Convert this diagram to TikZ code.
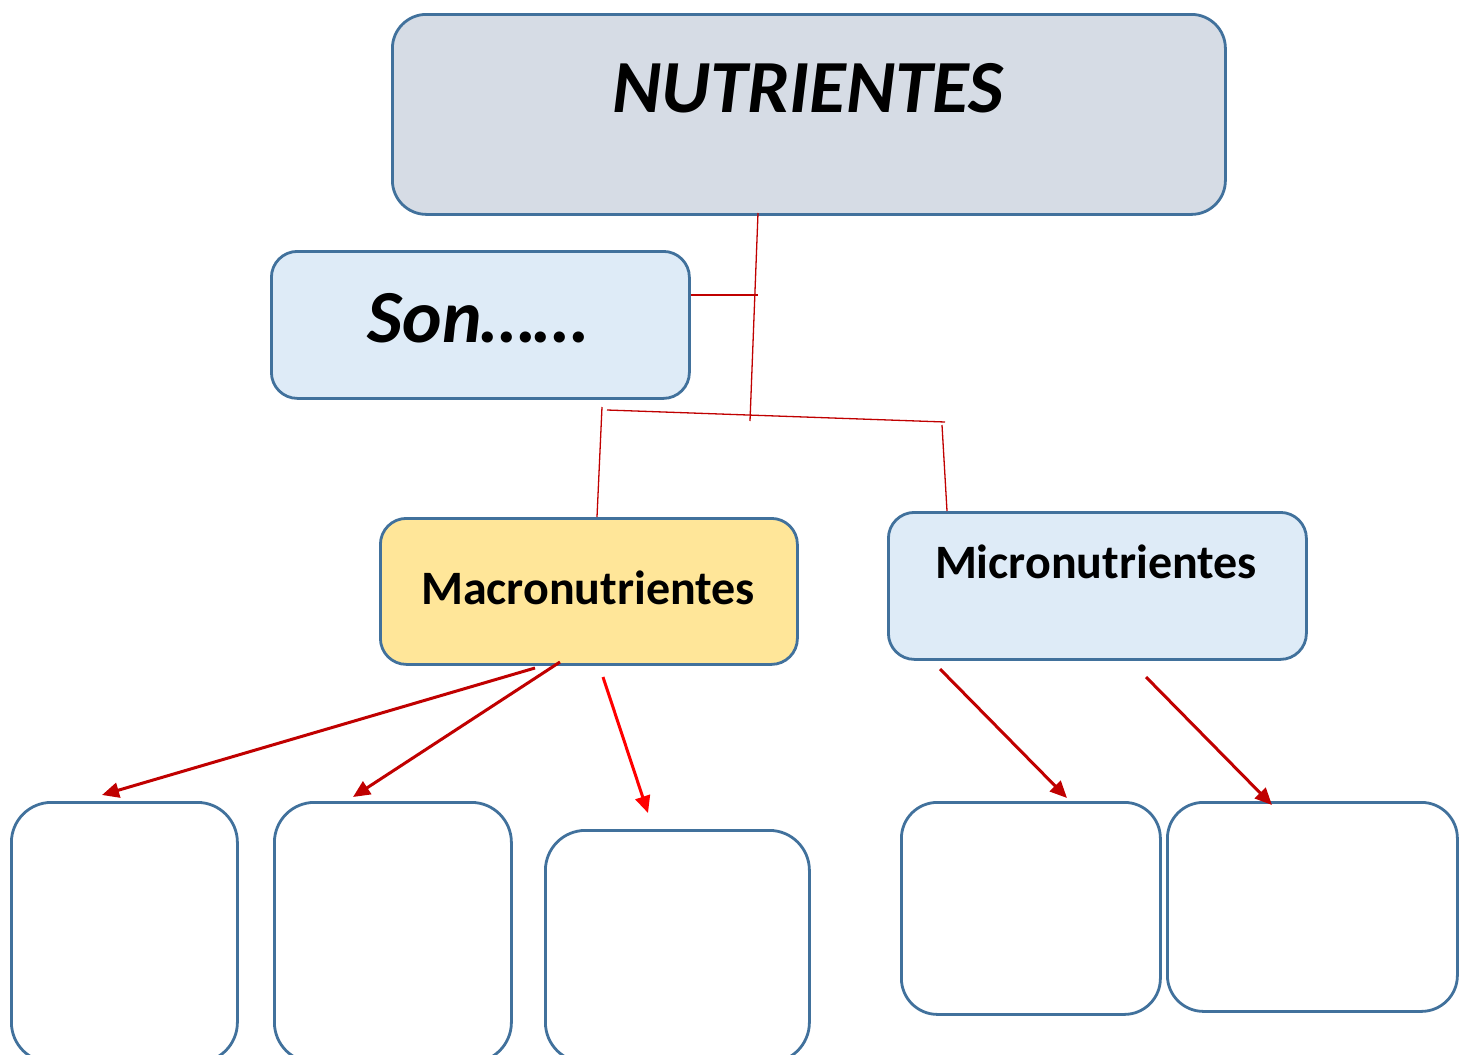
\documentclass[tikz,border=0pt]{standalone}
\usepackage{fontspec}
\setmainfont{Carlito}
\usetikzlibrary{arrows.meta}
\definecolor{bord}{HTML}{41719C}
\definecolor{topfill}{HTML}{D6DCE5}
\definecolor{bluefill}{HTML}{DEEBF7}
\definecolor{yelfill}{HTML}{FFE699}
\definecolor{darkred}{HTML}{C00000}
\definecolor{brightred}{HTML}{FF0000}
\begin{document}
\begin{tikzpicture}[x=1pt,y=-1pt,
  box/.style={draw=bord,line width=2.8pt,rounded corners=#1,inner sep=0pt,anchor=north west},
  box/.default=30pt,
  thin/.style={draw=darkred,line width=1.3pt},
  arr/.style={draw=darkred,line width=3pt,-{Triangle[length=17pt,width=15pt]}},
  lbl/.style={font=\bfseries,text=black,inner sep=0pt}
]
\useasboundingbox (0,0) rectangle (1465,1055);
% main boxes
\node[box=34pt,fill=topfill,minimum width=833pt,minimum height=200pt] (top) at (391,13) {};
\node[box=26pt,fill=bluefill,minimum width=418pt,minimum height=147pt] (son) at (270,250) {};
\node[box=26pt,fill=yelfill,minimum width=417pt,minimum height=146pt] (macro) at (379,517) {};
\node[box=26pt,fill=bluefill,minimum width=418pt,minimum height=147pt] (micro) at (887,511) {};
% labels
\node[lbl,font=\bfseries\itshape\fontsize{75}{80}\selectfont] (ttop) at (808,88) {NUTRIENTES};
\node[lbl,font=\bfseries\itshape\fontsize{75}{80}\selectfont] (tson) at (478,318) {Son……};
\node[lbl,font=\bfseries\fontsize{48}{52}\selectfont] (tmacro) at (588,588) {Macronutrientes};
\node[lbl,font=\bfseries\fontsize{48}{52}\selectfont] (tmicro) at (1096,562) {Micronutrientes};
% bottom boxes
\begin{scope}
\clip (0,0) rectangle (1465,1055);
\node[box=40pt,fill=white,minimum width=226pt,minimum height=260pt] (b1) at (10,801) {};
\node[box=40pt,fill=white,minimum width=237pt,minimum height=260pt] (b2) at (273,801) {};
\node[box=40pt,fill=white,minimum width=264pt,minimum height=232pt] (b3) at (544,829) {};
\end{scope}
\node[box=36pt,fill=white,minimum width=259pt,minimum height=212pt] (b4) at (900,801) {};
\node[box=36pt,fill=white,minimum width=290pt,minimum height=209pt] (b5) at (1166,801) {};
% thin connector lines
\coordinate (c1) at (758,213);
\coordinate (c2) at (750,421);
\coordinate (c3) at (758,295);
\coordinate (c4) at (607,410);
\coordinate (c5) at (945,422);
\coordinate (c6) at (602,407);
\coordinate (c7) at (942,425);
\path[thin] (c1) -- (c2);
\path[thin] (son.east |- c3) -- (c3);
\path[thin] (c4) -- (c5);
\path[thin] (c6) -- (597,517);
\path[thin] (c7) -- (947,511);
% arrows
\coordinate (a1) at (535,668);
\coordinate (a2) at (560,662);
\coordinate (a3) at (603,677);
\coordinate (a4) at (940,669);
\coordinate (a5) at (1146,677);
\coordinate (e1) at (102,795);
\coordinate (e2) at (353,797);
\coordinate (e3) at (648,813);
\coordinate (e4) at (1067,798);
\coordinate (e5) at (1272,805);
\path[arr] (a1) -- (e1);
\path[arr] (a2) -- (e2);
\path[arr,draw=brightred] (a3) -- (e3);
\path[arr] (a4) -- (e4);
\path[arr] (a5) -- (e5);
\end{tikzpicture}
\end{document}
